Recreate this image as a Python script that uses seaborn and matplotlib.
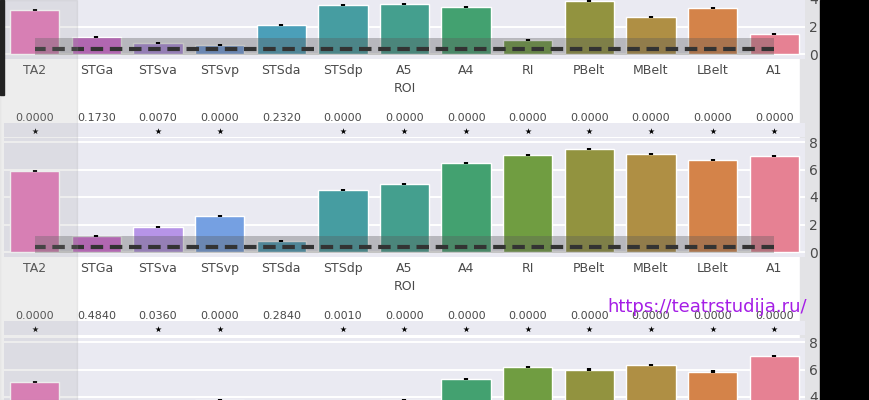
import numpy as np
import pandas as pd
import matplotlib
matplotlib.use("Agg")
import matplotlib.pyplot as plt
import seaborn as sns
from matplotlib.patches import Rectangle

# ---------------- data ----------------
categories = ["A1", "LBelt", "MBelt", "PBelt", "RI", "A4", "A5",
              "STSdp", "STSda", "STSvp", "STSva", "STGa", "TA2"]

panel1_vals = [1.45, 3.35, 2.70, 3.85, 1.00, 3.40, 3.65, 3.55, 2.10, 0.65, 0.80, 1.25, 3.20]
panel2_vals = [7.00, 6.70, 7.10, 7.50, 7.05, 6.50, 4.95, 4.50, 0.80, 2.60, 1.80, 1.15, 5.90]
panel3_vals = [7.00, 5.85, 6.35, 6.00, 6.20, 5.30, 3.80, 3.00, 1.50, 3.80, 2.00, 1.00, 5.10]

panel1_err = [0.08, 0.08, 0.08, 0.08, 0.08, 0.08, 0.08, 0.08, 0.08, 0.08, 0.08, 0.08, 0.08]
panel2_err = [0.08, 0.08, 0.08, 0.08, 0.08, 0.08, 0.08, 0.08, 0.08, 0.08, 0.08, 0.08, 0.08]
panel3_err = [0.08, 0.08, 0.08, 0.08, 0.08, 0.08, 0.08, 0.08, 0.08, 0.08, 0.08, 0.08, 0.08]

null_mean = [0.40, 0.40, 0.40, 0.40, 0.40, 0.40, 0.40, 0.40, 0.40, 0.40, 0.40, 0.40, 0.40]
null_lo = [-0.05, -0.05, -0.05, -0.05, -0.05, -0.05, -0.05, -0.05, -0.05, -0.05, -0.05, -0.05, -0.05]
null_hi = [1.15, 1.15, 1.15, 1.15, 1.15, 1.15, 1.15, 1.15, 1.15, 1.15, 1.15, 1.15, 1.15]

panel1_p = ["0.0000", "0.0000", "0.0000", "0.0000", "0.0000", "0.0000", "0.0000",
            "0.0000", "0.2320", "0.0000", "0.0070", "0.1730", "0.0000"]
panel2_p = ["0.0000", "0.0000", "0.0000", "0.0000", "0.0000", "0.0000", "0.0000",
            "0.0010", "0.2840", "0.0000", "0.0360", "0.4840", "0.0000"]

y_ticks = [0, 2, 4, 6, 8]
x_label = "ROI"
watermark = "https://teatrstudija.ru/"

# ---------------- style ----------------
sns.set_theme(style="darkgrid")
plt.rcParams["font.family"] = ["DejaVu Sans"]
palette = sns.color_palette("husl", len(categories))
TXT = "#4a4a4a"

W, H = 870, 400
fig = plt.figure(figsize=(W / 100, H / 100), dpi=100)
fig.patch.set_facecolor("white")

def px_axes(x0, ytop, x1, ybot, **kw):
    return fig.add_axes([x0 / W, 1 - ybot / H, (x1 - x0) / W, (ybot - ytop) / H], **kw)

# light grey strip behind right tick labels
fig.patches.append(Rectangle((800 / W, 0), 20 / W, 1, transform=fig.transFigure,
                             color="#e3e3e6", zorder=-5))

unit = 13.75
ylo, yhi = -0.35, 8.3
X0, X1 = 4, 805
zeros = [54, 252, 452]
vals_list = [panel1_vals, panel2_vals, panel3_vals]
err_list = [panel1_err, panel2_err, panel3_err]
p_list = [panel1_p, panel2_p, None]

for z, vals, errs, pvals in zip(zeros, vals_list, err_list, p_list):
    top = z - yhi * unit
    bot = z - ylo * unit
    ax = px_axes(X0, top, X1, bot)
    ax.set_facecolor("#eaeaf2")
    df = pd.DataFrame({"roi": categories, "val": vals})
    sns.barplot(data=df, x="roi", y="val", hue="roi", order=categories,
                hue_order=categories, palette=palette, legend=False,
                errorbar=None, width=0.8, ax=ax, zorder=2)
    xs = np.arange(len(categories))
    ax.errorbar(xs, vals, yerr=errs, fmt="none", ecolor="black",
                elinewidth=3, capsize=0, zorder=5)
    ax.fill_between(xs, null_lo, null_hi, color="#5a5a5a", alpha=0.35,
                    lw=0, zorder=3)
    ax.plot(xs, null_mean, color="#333333", lw=3, dashes=(3, 1.6), zorder=4)
    ax.set_xlim(-0.5, len(categories) - 0.5)
    ax.invert_xaxis()
    ax.set_ylim(ylo, yhi)
    # tick values whose labels are (at least partly) inside the visible figure
    vis_ticks = [t for t in y_ticks if -6 <= z - t * unit <= H + 6]
    ax.set_yticks(vis_ticks)
    ax.yaxis.tick_right()
    ax.tick_params(axis="y", length=0, pad=3, labelsize=10, labelcolor=TXT)
    ax.tick_params(axis="x", length=0, pad=4, labelsize=9, labelcolor=TXT)
    ax.set_ylabel("")
    ax.set_xlabel(x_label, fontsize=9, color=TXT, labelpad=3)
    ax.grid(axis="y", color="white", lw=1.3)
    ax.grid(axis="x", visible=False)
    for t in y_ticks:
        ax.axhline(t, color="white", lw=1.3, zorder=0.5)
    for s in ax.spines.values():
        s.set_visible(False)

    if pvals is not None:
        # star strip
        sax = px_axes(X0, z + 69, X1, z + 83)
        sax.set_facecolor("#eaeaf2")
        sax.set_xlim(-0.5, len(categories) - 0.5)
        sax.invert_xaxis()
        sax.set_ylim(0, 1)
        sax.set_xticks([])
        sax.set_yticks([])
        sax.grid(False)
        for s in sax.spines.values():
            s.set_visible(False)
        sig = [i for i, p in enumerate(pvals) if float(p) < 0.05]
        sax.scatter(sig, [0.45] * len(sig), marker="*", s=22, color="black",
                    lw=0, zorder=3)
        for i, p in enumerate(pvals):
            sax.text(i, 1.0, p, ha="center", va="bottom", fontsize=8, color=TXT,
                     transform=sax.transData, clip_on=False)

# photo artefacts: glare over left column, dark edges
fig.patches.append(Rectangle((0, 0), 77 / W, 1, transform=fig.transFigure,
                             color="#9a9a9a", alpha=0.17, zorder=10))
fig.patches.append(Rectangle((0, 1 - 95 / H), 4 / W, 95 / H, transform=fig.transFigure,
                             color="#222222", zorder=11))
fig.patches.append(Rectangle((820 / W, 0), (W - 820) / W, 1, transform=fig.transFigure,
                             color="black", zorder=12))

fig.text(607 / W, 1 - 307 / H, watermark, fontsize=13, color="#a51ee6",
         ha="left", va="center", zorder=20)

fig.savefig("out.png", dpi=100)
